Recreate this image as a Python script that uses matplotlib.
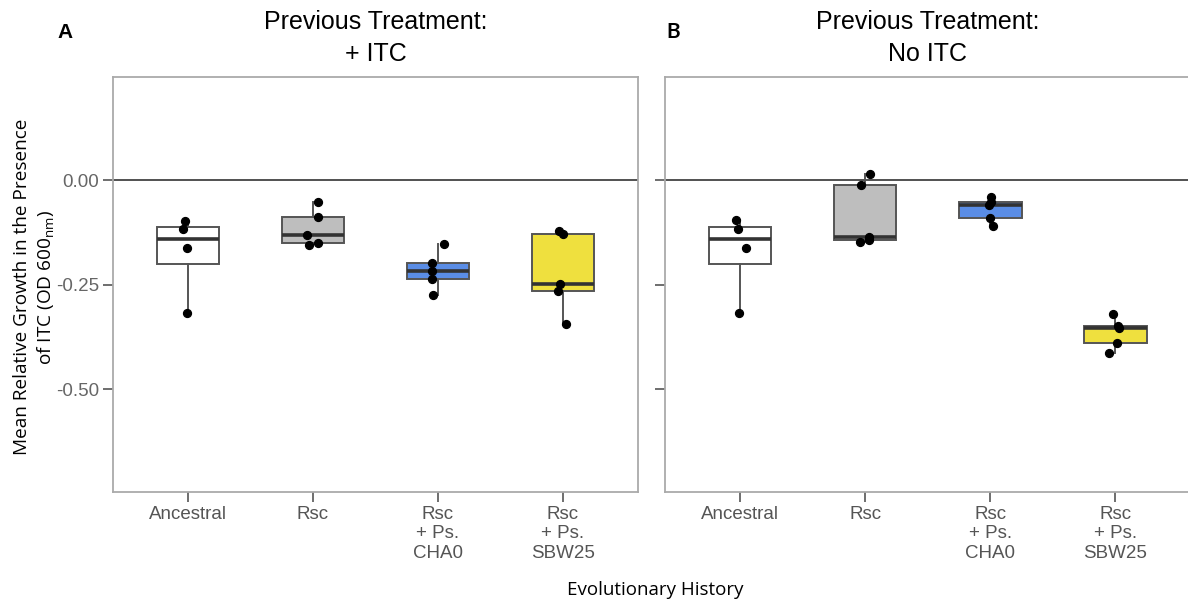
import matplotlib
matplotlib.use("Agg")
import matplotlib.pyplot as plt
import numpy as np

# Categories / colours
categories = ['Ancestral', 'Rsc', 'Rsc\n+ Ps.\nCHA0', 'Rsc\n+ Ps.\nSBW25']
box_colors = ['#FFFFFF', '#BEBEBE', '#5A8DE6', '#EFE03E']

# Panel A: previous treatment + ITC
prev_itc = [
    [-0.097, -0.117, -0.163, -0.319],
    [-0.053, -0.088, -0.132, -0.155, -0.151],
    [-0.153, -0.199, -0.218, -0.236, -0.275],
    [-0.122, -0.128, -0.249, -0.266, -0.344],
]
# Panel B: previous treatment no ITC
no_itc = [
    [-0.096, -0.117, -0.163, -0.319],
    [0.014, -0.013, -0.137, -0.144, -0.148],
    [-0.041, -0.052, -0.060, -0.092, -0.111],
    [-0.321, -0.349, -0.355, -0.391, -0.415],
]

# horizontal jitter of the points (category units), as drawn
jitter_a = [
    [-0.02, -0.036, -0.01, -0.01],
    [0.04, 0.04, -0.045, -0.03, 0.04],
    [0.048, -0.048, -0.048, -0.048, -0.04],
    [-0.03, 0.0, -0.024, -0.04, 0.024],
]
jitter_b = [
    [-0.03, -0.02, 0.05, -0.01],
    [0.04, -0.03, 0.03, 0.03, -0.04],
    [0.01, 0.01, -0.01, 0.0, 0.02],
    [-0.02, 0.02, 0.03, 0.01, -0.05],
]

titles = ['Previous Treatment:\n+ ITC', 'Previous Treatment:\nNo ITC']

fig = plt.figure(figsize=(11.88, 6.02), dpi=100)
ax_a = fig.add_axes([0.0949, 0.1832, 0.4422, 0.6884])
ax_b = fig.add_axes([0.5598, 0.1832, 0.4422, 0.6884])


def draw_panel(ax, data, jitter, title, show_ylabels):
    pos = np.arange(len(categories))
    bp = ax.boxplot(data, positions=pos, widths=0.5, patch_artist=True,
                    showfliers=False, showcaps=False, whis=1.5,
                    medianprops=dict(color='#333333', linewidth=2.6),
                    whiskerprops=dict(color='#555555', linewidth=1.4),
                    boxprops=dict(edgecolor='#555555', linewidth=1.4))
    for patch, c in zip(bp['boxes'], box_colors):
        patch.set_facecolor(c)
    for i, (vals, jit) in enumerate(zip(data, jitter)):
        ax.scatter(i + np.array(jit), vals, s=32, color='black', zorder=3)

    ax.axhline(0, color='#333333', linewidth=1.2, zorder=1)
    ax.set_xlim(-0.6, 3.6)
    ax.set_ylim(-0.7457, 0.2457)
    ax.set_xticks(pos)
    ax.set_xticklabels(categories, fontsize=13.5, color='#555555',
                       family='Liberation Sans', linespacing=1.22)
    ax.set_yticks([0.0, -0.25, -0.5])
    if show_ylabels:
        ax.set_yticklabels(['0.00', '-0.25', '-0.50'], fontsize=13.5,
                           color='#666666', family='Liberation Sans')
    else:
        ax.set_yticklabels([])
    ax.tick_params(axis='both', length=7, width=1.2, color='#555555', pad=3)
    for sp in ax.spines.values():
        sp.set_color('#AAAAAA')
        sp.set_linewidth(1.3)
    ax.set_title(title, fontsize=18, family='Liberation Sans',
                 linespacing=1.4, pad=12)


draw_panel(ax_a, prev_itc, jitter_a, titles[0], True)
draw_panel(ax_b, no_itc, jitter_b, titles[1], False)

fig.text(65 / 1188, 1 - 32 / 602, 'A', fontsize=15, fontweight='bold',
         family='Liberation Sans', ha='center', va='center')
fig.text(673 / 1188, 1 - 32 / 602, 'B', fontsize=15, fontweight='bold',
         family='Lato', ha='center', va='center')

fig.text(35 / 1188, 1 - 287 / 602,
         'Mean Relative Growth in the Presence\nof ITC (OD 600$_{\\mathregular{nm}}$)',
         rotation=90, fontsize=13.7, family='Open Sans', ha='center',
         va='center', linespacing=1.3)
fig.text(655 / 1188, 1 - 590 / 602, 'Evolutionary History', fontsize=13.5,
         family='Open Sans', ha='center', va='center')

fig.savefig('out.png', dpi=100)
